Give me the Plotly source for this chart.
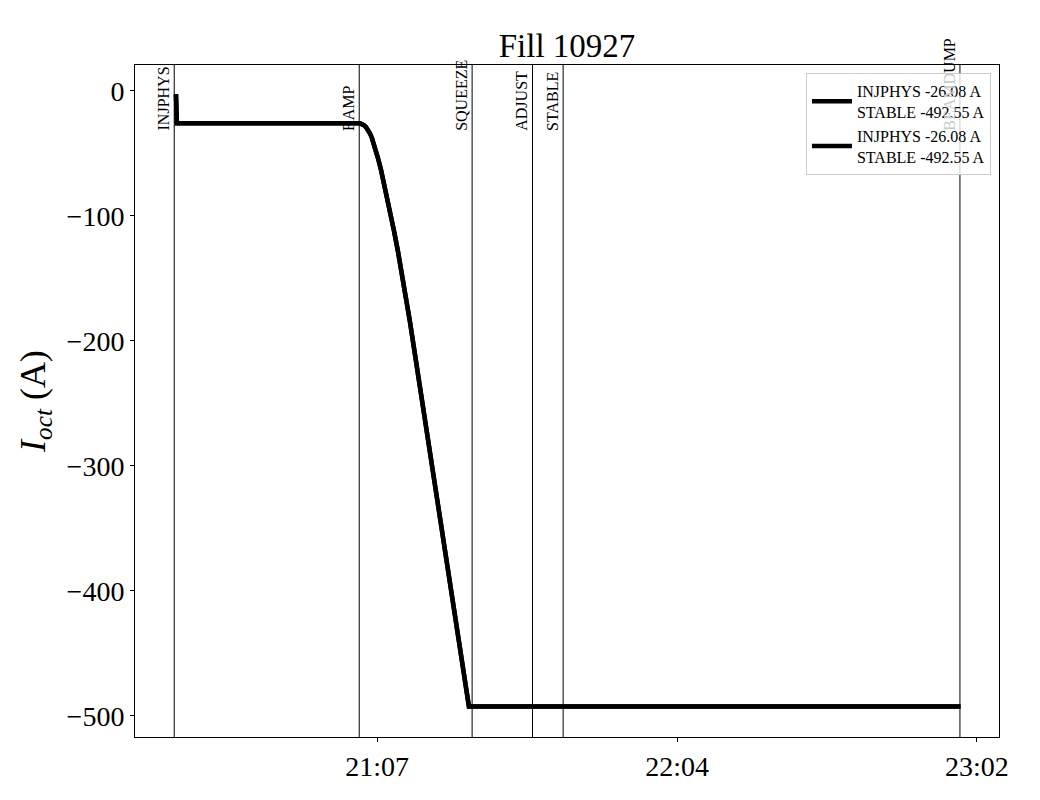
import plotly.graph_objects as go

DAY = "2025-08-01 "

times = ["20:28:33", "20:28:44", "21:03:53", "21:04:16", "21:04:39", "21:05:02",
         "21:05:25", "21:05:48", "21:06:11", "21:06:34", "21:06:57", "21:07:20",
         "21:07:55", "21:08:29", "21:09:04", "21:09:38", "21:10:24", "21:11:10",
         "21:11:57", "21:12:43", "21:13:29", "21:24:49", "22:59:14"]
values = [-2.7, -26.08, -26.08, -26.5, -27.5, -29.0,
          -31.2, -34.0, -37.8, -42.5, -47.8, -53.6,
          -63.0, -73.5, -84.5, -95.8, -111.5, -128.0,
          -146.0, -164.5, -184.5, -492.55, -492.55]

series_names = ["INJPHYS -26.08 A<br>STABLE -492.55 A",
                "INJPHYS -26.08 A<br>STABLE -492.55 A"]

# beam modes
mode_names = ["INJPHYS", "RAMP", "SQUEEZE", "ADJUST", "STABLE", "BEAMDUMP"]
mode_times = ["20:28:13", "21:03:45", "21:25:26", "21:37:02", "21:42:55", "22:59:08"]

tick_times = ["21:07:12", "22:04:48", "23:02:24"]
tick_labels = ["21:07", "22:04", "23:02"]

x_range = ["20:20:41", "23:06:38"]
y_range = [-517.0, 20.6]

FONT = "Liberation Serif"

fig = go.Figure()
for name in series_names:
    fig.add_trace(go.Scatter(
        x=[DAY + t for t in times], y=values, mode="lines", name=name,
        line=dict(color="black", width=4.5), showlegend=True))

for nm, t in zip(mode_names, mode_times):
    fig.add_shape(type="line", xref="x", yref="paper", x0=DAY + t, x1=DAY + t,
                  y0=0, y1=1, line=dict(color="black", width=1), layer="above")
    label = nm
    if nm == "BEAMDUMP":
        # part of this label lies behind the semi-transparent legend
        label = "<span style='color:#c8c8c8'>BEAMD</span>UMP"
    fig.add_annotation(x=DAY + t, y=-33.6, xref="x", yref="y", text=label,
                       textangle=-90, showarrow=False, xanchor="right",
                       yanchor="bottom", xshift=0,
                       font=dict(family=FONT, size=16, color="black"))

fig.update_layout(
    width=1040, height=800,
    margin=dict(l=127, r=49, t=57, b=71),
    paper_bgcolor="white", plot_bgcolor="white",
    font=dict(family=FONT, color="black"),
    title=dict(text="Fill 10927", x=0.5, xref="paper", xanchor="center",
               y=1 - 37 / 800, yanchor="middle",
               font=dict(family=FONT, size=33, color="black")),
    legend=dict(x=0.9907, y=0.988, xanchor="right", yanchor="top",
                bgcolor="rgba(255,255,255,0.8)", bordercolor="#cccccc",
                borderwidth=1, font=dict(family=FONT, size=16, color="black"),
                tracegroupgap=0, itemwidth=40),
    showlegend=True,
)
fig.update_xaxes(
    range=[DAY + x_range[0], DAY + x_range[1]],
    tickvals=[DAY + t for t in tick_times], ticktext=tick_labels,
    showgrid=False, zeroline=False, showline=True, linecolor="black",
    linewidth=1, mirror=True, ticks="outside", ticklen=4, tickcolor="black",
    tickfont=dict(family=FONT, size=28, color="black"))
fig.update_yaxes(
    range=y_range, tickvals=[0, -100, -200, -300, -400, -500],
    showgrid=False, zeroline=False, showline=True, linecolor="black",
    linewidth=1, mirror=True, ticks="outside", ticklen=4, tickcolor="black",
    tickfont=dict(family=FONT, size=28, color="black"),
    title=dict(text="<i>I</i><sub><i>oct</i></sub> (A)", standoff=10,
               font=dict(family=FONT, size=36, color="black")))

fig.write_html("out.html")
